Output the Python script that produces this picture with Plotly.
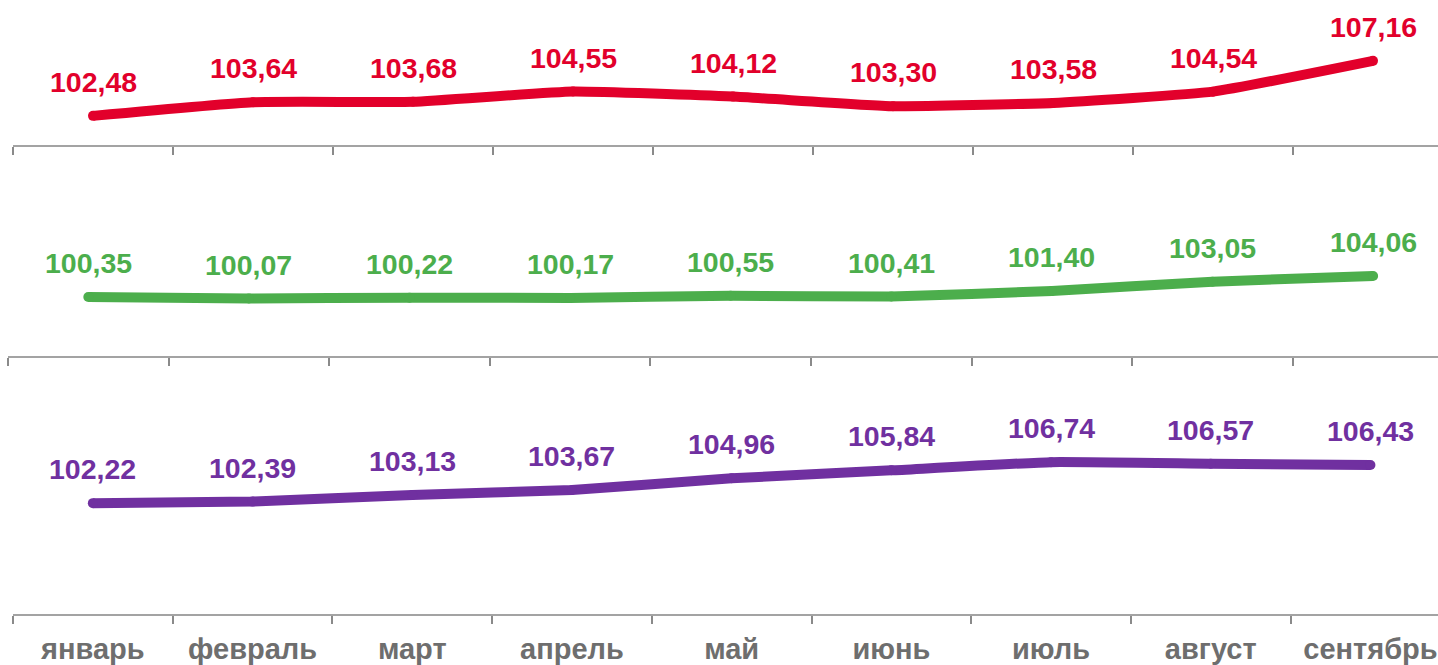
import plotly.graph_objects as go

months = ["январь", "февраль", "март", "апрель", "май", "июнь", "июль", "август", "сентябрь"]
series_top = [102.48, 103.64, 103.68, 104.55, 104.12, 103.30, 103.58, 104.54, 107.16]
series_mid = [100.35, 100.07, 100.22, 100.17, 100.55, 100.41, 101.40, 103.05, 104.06]
series_bot = [102.22, 102.39, 103.13, 103.67, 104.96, 105.84, 106.74, 106.57, 106.43]

RED = "#e2002b"
GREEN = "#4cae4c"
PURPLE = "#7030a0"
GRAY = "#6e6e6e"
FONT = "Liberation Sans, Arial, sans-serif"

W, H = 1438, 665
ML, MB = 0, 51
PH = H - MB  # plot height in px (margin top 0)
PW = W - ML


def frac(ypix):
    return (PH - ypix) / PH


# panel specs: (axis pixel y, top pixel y, y-min, px per unit, x start px, cat width px)
panels = [
    (series_top, RED, 145.0, 0.0, 100.0, 11.75, 13.0, 160.0),
    (series_mid, GREEN, 355.5, 165.0, 90.0, 5.66, 8.0, 160.6),
    (series_bot, PURPLE, 614.0, 375.0, 90.0, 9.07, 13.0, 159.7),
]

fig = go.Figure()
layout = dict(
    width=W, height=H,
    margin=dict(l=ML, r=0, t=0, b=MB),
    paper_bgcolor="white", plot_bgcolor="white",
    showlegend=False,
)
annotations = []
for i, (vals, color, axy, topy, ymin, ppu, xs, cw) in enumerate(panels):
    n = i + 1
    xa = "x" if n == 1 else f"x{n}"
    ya = "y" if n == 1 else f"y{n}"
    fig.add_trace(go.Scatter(
        x=months, y=vals, xaxis=xa, yaxis=ya, mode="lines+markers",
        line=dict(color=color, width=10, shape="spline", smoothing=0.4),
        marker=dict(color=color, size=10, line=dict(width=0)),
        hoverinfo="skip",
    ))
    for m, v in zip(months, vals):
        annotations.append(dict(
            x=m, y=v, xref=xa, yref=ya, text=f"{v:.2f}".replace(".", ","),
            showarrow=False, yshift=34,
            font=dict(family=FONT, size=28.5, color=color, weight="bold"),
        ))
    ymax = ymin + (axy - topy) / ppu
    xdom0 = (xs - ML) / PW
    xr1 = -0.5 + (W - xs) / cw
    key_x = "xaxis" if n == 1 else f"xaxis{n}"
    key_y = "yaxis" if n == 1 else f"yaxis{n}"
    layout[key_x] = dict(
        domain=[xdom0, 1], anchor=ya, type="category",
        categoryorder="array", categoryarray=months,
        range=[-0.5, xr1], tickson="boundaries",
        showline=True, linecolor="#a3a3a3", linewidth=2,
        ticks="outside", ticklen=8, tickwidth=2, tickcolor="#8a8a8a",
        showgrid=False, zeroline=False,
        showticklabels=(n == 3), ticklabelstandoff=8,
        tickfont=dict(family=FONT, size=29, color=GRAY, weight="bold"),
    )
    layout[key_y] = dict(
        domain=[frac(axy), frac(topy)], anchor=xa, range=[ymin, ymax],
        visible=False, showgrid=False, zeroline=False,
    )

layout["annotations"] = annotations
fig.update_layout(**layout)
fig.write_html(
    "out.html",
    config={"displayModeBar": False, "staticPlot": True},
    post_script="document.body.style.margin='0';document.body.style.overflow='hidden';",
)
